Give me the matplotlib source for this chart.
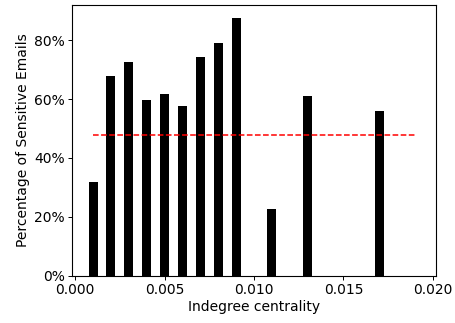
import matplotlib
matplotlib.use('Agg')
import matplotlib.pyplot as plt
from matplotlib.ticker import PercentFormatter, MultipleLocator

# indegree centrality bins and share of sensitive emails per bin
centrality = [0.001, 0.002, 0.003, 0.004, 0.005, 0.006, 0.007, 0.008, 0.009, 0.010,
              0.011, 0.012, 0.013, 0.014, 0.015, 0.016, 0.017, 0.018, 0.019]
pct_sensitive = [0.319, 0.678, 0.725, 0.596, 0.616, 0.575, 0.743, 0.790, 0.876, 0.0,
                 0.226, 0.0, 0.609, 0.0, 0.0, 0.0, 0.558, 0.0, 0.0]
overall_rate = 0.478

plt.rcParams['font.size'] = 10
plt.rcParams['axes.linewidth'] = 0.8
for ax_name in ('xtick', 'ytick'):
    plt.rcParams[ax_name + '.major.size'] = 2.8
    plt.rcParams[ax_name + '.major.width'] = 0.7
    plt.rcParams[ax_name + '.major.pad'] = 2.5

fig = plt.figure(figsize=(4.56, 3.23), dpi=100)
ax = fig.add_axes([0.158, 0.146, 0.798, 0.839])
ax.bar(centrality, pct_sensitive, width=0.0005, color='black')
ax.plot([centrality[0], centrality[-1]], [overall_rate, overall_rate],
        color='red', linestyle='--', linewidth=1.1)
ax.xaxis.set_major_locator(MultipleLocator(0.005))
ax.yaxis.set_major_formatter(PercentFormatter(1, decimals=0))
ax.set_xlabel("Indegree centrality", labelpad=2)
ax.set_ylabel("Percentage of Sensitive Emails", labelpad=3)
fig.savefig("out.png", dpi=100)
